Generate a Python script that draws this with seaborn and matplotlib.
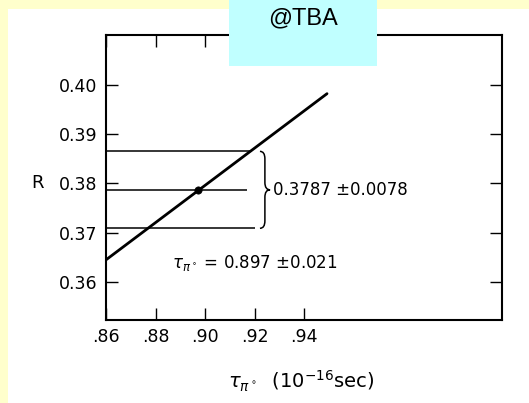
import matplotlib
matplotlib.use("Agg")
import matplotlib.pyplot as plt
import seaborn as sns
import pandas as pd
from matplotlib.patches import Rectangle, PathPatch
from matplotlib.path import Path

# ---- data ----
tau_line = [0.86, 0.9493]
R_line = [0.3645, 0.3982]
tau_best = [0.897]
R_best = [0.3787]
band_R = [0.3865, 0.3787, 0.3709]
band_tau_end = [0.919, 0.917, 0.920]
x_ticks = [0.86, 0.88, 0.90, 0.92, 0.94]
x_tick_labels = [".86", ".88", ".90", ".92", ".94"]
y_ticks = [0.36, 0.37, 0.38, 0.39, 0.40]
y_tick_labels = ["0.36", "0.37", "0.38", "0.39", "0.40"]
R_text = "0.3787 \u00b10.0078"
tau_text = r"$\tau_{\pi^\circ}$ = 0.897 $\pm$0.021"
xlabel = r"$\tau_{\pi^\circ}$  (10$^{-16}$sec)"
ylabel = "R"
watermark = "@TBA"

sns.set_style("ticks")
plt.rcParams["font.family"] = ["DejaVu Sans"]
plt.rcParams["mathtext.fontset"] = "dejavusans"
plt.rcParams["text.color"] = "black"
plt.rcParams["axes.labelcolor"] = "black"

W, H = 529, 403
fig = plt.figure(figsize=(W / 100, H / 100), dpi=100, facecolor="#FFFFCC")
fig.patches.append(Rectangle((8 / W, 0), 1, (H - 9) / H, transform=fig.transFigure,
                             facecolor="white", edgecolor="none", zorder=-1))

ax = fig.add_axes([106 / W, 83 / H, 396 / W, 285 / H])
ax.set_facecolor("white")

line_df = pd.DataFrame({"tau": tau_line, "R": R_line})
sns.lineplot(data=line_df, x="tau", y="R", ax=ax, color="black", linewidth=2.0)

best_df = pd.DataFrame({"tau": tau_best, "R": R_best})
sns.scatterplot(data=best_df, x="tau", y="R", ax=ax, color="black", s=28,
                edgecolor="black", zorder=4)

ax.hlines(band_R, xmin=x_ticks[0], xmax=band_tau_end, color="black", linewidth=1.1)

# curly brace spanning the band
ytop, ymid, ybot = band_R
x_end, x_mid, x_tip = 0.9222, 0.9242, 0.9263
r = 0.0015
verts = [(x_end, ytop), (x_mid, ytop), (x_mid, ytop - r),
         (x_mid, ymid + r), (x_mid, ymid), (x_tip, ymid),
         (x_mid, ymid), (x_mid, ymid - r),
         (x_mid, ybot + r), (x_mid, ybot), (x_end, ybot)]
codes = [Path.MOVETO, Path.CURVE3, Path.CURVE3,
         Path.LINETO, Path.CURVE3, Path.CURVE3,
         Path.CURVE3, Path.CURVE3,
         Path.LINETO, Path.CURVE3, Path.CURVE3]
ax.add_patch(PathPatch(Path(verts, codes), facecolor="none", edgecolor="black", linewidth=1.1))

ax.text(0.9275, R_best[0], R_text, ha="left", va="center", fontsize=12, color="black")
ax.text(0.8867, 0.3639, tau_text, ha="left", va="center", fontsize=12, color="black")

ax.set_xlim(0.86, 1.02)
ax.set_ylim(0.3523, 0.4101)
ax.set_xticks(x_ticks)
ax.set_xticklabels(x_tick_labels)
ax.set_yticks(y_ticks)
ax.set_yticklabels(y_tick_labels)
ax.tick_params(direction="in", length=8.5, width=1, top=True, right=True,
               labelsize=12.5, pad=6, colors="black")
for s in ax.spines.values():
    s.set_linewidth(1.5)
    s.set_color("black")

ax.set_xlabel(xlabel, fontsize=14, va="center")
ax.xaxis.set_label_coords(0.492, -0.215)
ax.set_ylabel(ylabel, fontsize=13, rotation=0, ha="center", va="center")
ax.yaxis.set_label_coords(-0.174, 0.481)

fig.patches.append(Rectangle((229 / W, (H - 66) / H), 148 / W, 66 / H, transform=fig.transFigure,
                             facecolor="#C0FFFF", edgecolor="none", zorder=10))
fig.text(303 / W, 1 - 18 / H, watermark, ha="center", va="center", fontsize=17,
         family=["Liberation Sans"], zorder=11)

fig.savefig("out.png", dpi=100, facecolor=fig.get_facecolor())
